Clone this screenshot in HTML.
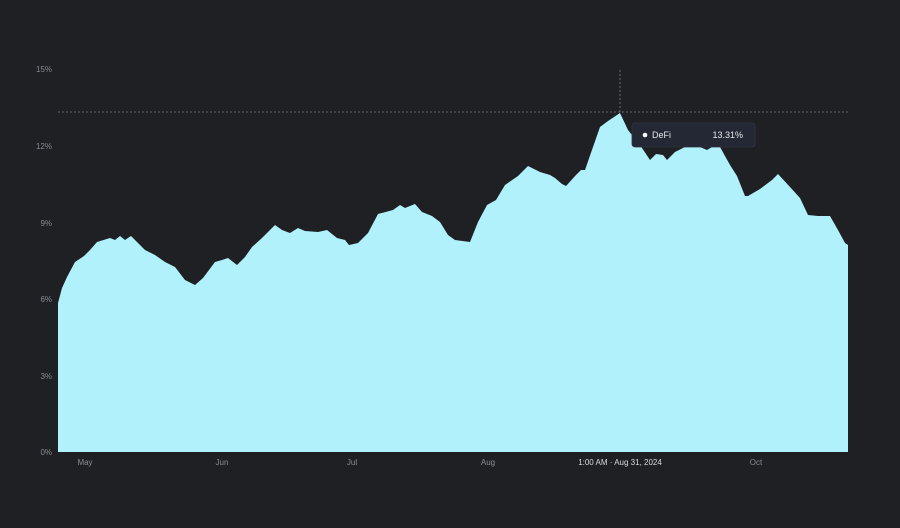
<!DOCTYPE html>
<html><head><meta charset="utf-8"><style>
html,body{margin:0;padding:0;background:#1f2024;}
svg{display:block;}
text{font-family:"Liberation Sans",sans-serif;}
</style></head><body>
<svg width="900" height="528" viewBox="0 0 900 528" xmlns="http://www.w3.org/2000/svg">
<rect width="900" height="528" fill="#1f2024"/>
<g fill="#8a8c92" font-size="8" text-anchor="end">
<text x="52" y="72">15%</text>
<text x="52" y="149">12%</text>
<text x="52" y="226">9%</text>
<text x="52" y="302">6%</text>
<text x="52" y="379">3%</text>
<text x="52" y="455">0%</text>
</g>
<path fill="#b0f1fb" d="M58,452 L58,303 L62,288 L67,277 L75,262 L84,256 L90,250 L97,242 L110,238 L115,240 L120,236 L125,240 L131,236 L145,250 L155,255 L165,262 L175,267 L185,280 L195,285 L203,278 L215,262 L222,260 L228,258 L237,265 L245,257 L252,247 L262,238 L275,225 L282,230 L290,233 L298,228 L305,231 L318,232 L327,230 L337,238 L345,240 L349,245 L358,243 L368,233 L378,214 L393,210 L400,205 L405,208 L415,204 L422,212 L432,216 L440,222 L448,235 L455,240 L470,242 L478,222 L487,205 L496,200 L505,185 L518,176 L528,166 L540,172 L550,175 L555,178 L562,184 L566,186 L576,175 L581,170 L585,170 L593,147 L600,127 L608,121 L620,113 L628,130 L640,145 L650,160 L656,154 L663,155 L667,160 L675,152 L685,147 L700,147 L707,150 L712,147 L720,147 L730,165 L737,176 L745,196 L748,196 L760,189 L772,180 L778,174 L790,187 L800,198 L808,215 L818,216 L830,216 L838,230 L845,243 L848,245 L848,452 Z"/>
<line x1="58" y1="112" x2="848" y2="112" stroke="#7a7c82" stroke-width="0.8" stroke-dasharray="2,2"/>
<line x1="620" y1="70" x2="620" y2="113" stroke="#7a7c82" stroke-width="0.8" stroke-dasharray="2,2"/>
<rect x="632" y="123" width="123" height="24" rx="3" fill="#232834" stroke="#2e3440" stroke-width="0.8"/>
<circle cx="645" cy="135" r="2.3" fill="#ffffff"/>
<text x="652" y="138" fill="#e6e8ec" font-size="9">DeFi</text>
<text x="743" y="138" fill="#e6e8ec" font-size="9" text-anchor="end">13.31%</text>
<g fill="#8a8c92" font-size="8" text-anchor="middle">
<text x="85" y="465">May</text>
<text x="222" y="465">Jun</text>
<text x="352" y="465">Jul</text>
<text x="488" y="465">Aug</text>
<text x="756" y="465">Oct</text>
</g>
<text x="620" y="465" fill="#d8dadf" font-size="8" text-anchor="middle">1:00 AM · Aug 31, 2024</text>
</svg>
</body></html>
